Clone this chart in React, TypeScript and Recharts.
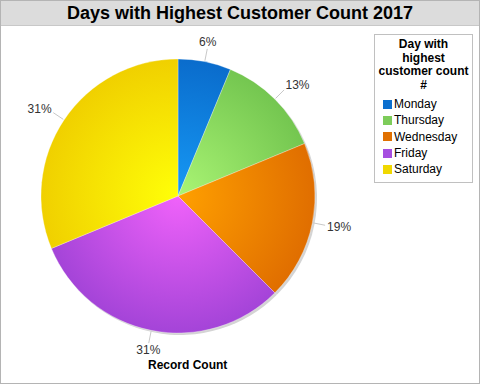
import React from 'react';
import { PieChart, Pie, Cell } from 'recharts';

const days = ['Monday', 'Thursday', 'Wednesday', 'Friday', 'Saturday'];
const counts = [1, 2, 3, 5, 5];
const innerColors = ['#1699f5', '#aaf574', '#ffa000', '#f062fa', '#ffff08'];
const outerColors = ['#0a6ccc', '#74c650', '#e06e00', '#a444d8', '#f0d000'];
const legendColors = ['#0b6fcf', '#7dcc5a', '#e07000', '#a64ee0', '#f0d800'];

const data = days.map((d, i) => ({ name: d, value: counts[i] }));

const CX = 178;
const CY = 196;
const R = 137;
const RAD = Math.PI / 180;
const font = '"Liberation Sans", Arial, sans-serif';

const renderLabel = (props: any) => {
  const { cx, cy, midAngle, outerRadius, percent } = props;
  const dx = Math.cos(-midAngle * RAD);
  const dy = Math.sin(-midAngle * RAD);
  const x1 = cx + (outerRadius + 1) * dx;
  const y1 = cy + (outerRadius + 1) * dy;
  const x2 = cx + (outerRadius + 13) * dx;
  const y2 = cy + (outerRadius + 13) * dy;
  const anchor = dx > 0.25 ? 'start' : dx < -0.25 ? 'end' : 'middle';
  const tx = x2 + dx * 2;
  const ty = y2 + dy * 7;
  return (
    <g>
      <line x1={x1} y1={y1} x2={x2} y2={y2} stroke="#c8c8c8" strokeWidth={1} />
      <text x={tx} y={ty} textAnchor={anchor} dominantBaseline="central" fill="#333" fontSize={12} fontFamily={font}>
        {Math.round(percent * 100)}%
      </text>
    </g>
  );
};

export default function App() {
  return (
    <div style={{ position: 'absolute', left: 0, top: 0, width: 480, height: 384, background: '#fff', fontFamily: font, boxSizing: 'border-box', border: '1px solid #b4b4b4' }}>
      <div style={{ position: 'absolute', left: 0, top: 0, width: 478, height: 24, background: '#dcdcdc', borderBottom: '1px solid #c8c8c8', textAlign: 'center', fontWeight: 'bold', fontSize: 18, lineHeight: '25px', color: '#000' }}>
        Days with Highest Customer Count 2017
      </div>
      <div style={{ position: 'absolute', left: -1, top: -1 }}>
        <PieChart width={480} height={384} margin={{ top: 0, right: 0, bottom: 0, left: 0 }}>
          <defs>
            {days.map((d, i) => (
              <radialGradient key={d} id={`grad${i}`} gradientUnits="userSpaceOnUse" cx={CX} cy={CY} r={R}>
                <stop offset="0%" stopColor={innerColors[i]} />
                <stop offset="100%" stopColor={outerColors[i]} />
              </radialGradient>
            ))}
          </defs>
          <Pie
            data={data}
            dataKey="value"
            cx={CX + 2}
            cy={CY + 2}
            outerRadius={R}
            startAngle={90}
            endAngle={-270}
            fill="#d4d4d4"
            stroke="none"
            legendType="none"
            isAnimationActive={false}
          />
          <Pie
            data={data}
            dataKey="value"
            cx={CX}
            cy={CY}
            outerRadius={R}
            startAngle={90}
            endAngle={-270}
            stroke="#ffffff"
            strokeOpacity={0.5}
            strokeWidth={0.6}
            label={renderLabel}
            labelLine={false}
            isAnimationActive={false}
          >
            {data.map((d, i) => (
              <Cell key={d.name} fill={`url(#grad${i})`} />
            ))}
          </Pie>
        </PieChart>
      </div>
      <div style={{ position: 'absolute', left: 147, top: 357, fontWeight: 'bold', fontSize: 12, lineHeight: '14px', color: '#000' }}>Record Count</div>
      <div style={{ position: 'absolute', left: 373, top: 33, width: 99, height: 149, boxSizing: 'border-box', border: '1px solid #c0c0c0', background: '#fff' }}>
        <div style={{ textAlign: 'center', fontWeight: 'bold', fontSize: 12, lineHeight: '13.5px', paddingTop: 3, color: '#000' }}>
          Day with<br />highest<br />customer count<br />#
        </div>
        <div style={{ marginTop: 4, paddingLeft: 8 }}>
          {days.map((d, i) => (
            <div key={d} style={{ display: 'flex', alignItems: 'center', height: 16.3, fontSize: 12, color: '#000' }}>
              <span style={{ width: 9, height: 9, background: legendColors[i], marginRight: 2, display: 'inline-block' }} />
              {d}
            </div>
          ))}
        </div>
      </div>
    </div>
  );
}
